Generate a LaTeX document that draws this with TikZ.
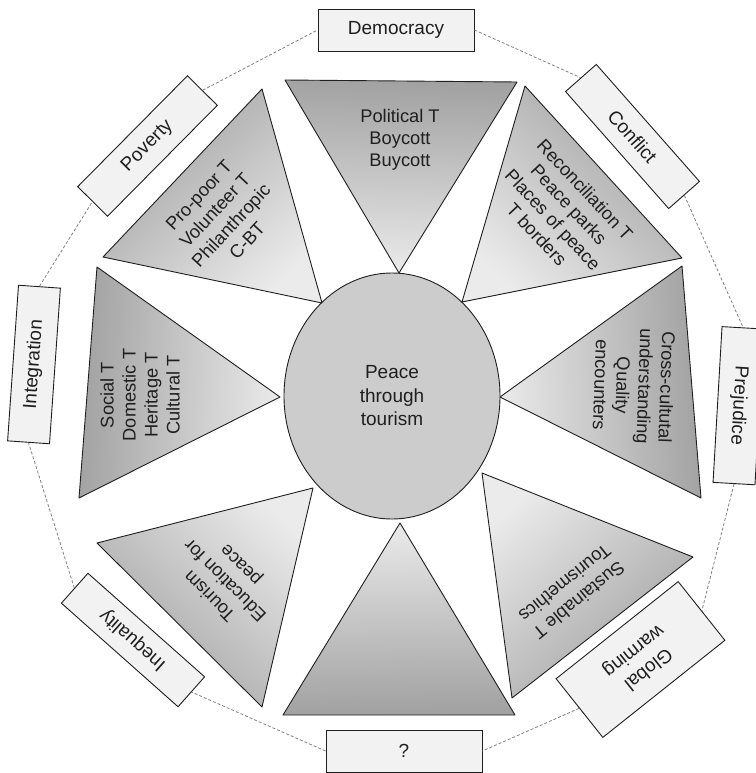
\documentclass[tikz,border=0pt]{standalone}
\usepackage{fontspec}
\setmainfont{Liberation Sans}
\usetikzlibrary{shapes.geometric}
\definecolor{tridark}{gray}{0.63}
\definecolor{trilight}{gray}{0.92}
\definecolor{hubgray}{gray}{0.8}
\definecolor{boxgray}{gray}{0.95}
\definecolor{edge}{gray}{0.12}

\begin{document}
\begin{tikzpicture}[x=1pt, y=-1pt]
  \tikzstyle{every node}=[font=\fontsize{18.3}{22}\selectfont, align=center, text=edge]
  \tikzstyle{box}=[draw=edge, line width=0.9pt, fill=boxgray, minimum width=156pt, inner sep=2pt,
    font=\fontsize{19}{23.5}\selectfont]
  \tikzstyle{wedge}=[draw=edge, line width=0.9pt, top color=tridark, bottom color=trilight, line join=round]
  \tikzstyle{link}=[draw=gray, line width=0.8pt, dash pattern=on 3pt off 2pt]

  \useasboundingbox (0,0) rectangle (755,773);

  % the eight wedges
  \shadedraw[wedge, shading angle=-2] (285,80) -- (517,82) -- (399,273) -- cycle;
  \shadedraw[wedge, shading angle=-43] (525,86) -- (682,258) -- (462,302) -- cycle;
  \shadedraw[wedge, shading angle=-87] (682,266) -- (701,498) -- (500,397) -- cycle;
  \shadedraw[wedge, shading angle=-138] (693,557) -- (512,698) -- (482,473) -- cycle;
  \shadedraw[wedge, shading angle=-179] (515,715) -- (283,715) -- (400,523) -- cycle;
  \shadedraw[wedge, shading angle=137] (262,707) -- (97,543) -- (313,488) -- cycle;
  \shadedraw[wedge, shading angle=87] (79,498) -- (97,267) -- (280,397) -- cycle;
  \shadedraw[wedge, shading angle=43] (103,257) -- (262,89) -- (322,303) -- cycle;

  \node[ellipse, draw=edge, line width=0.9pt, fill=hubgray, minimum width=216pt, minimum height=246pt,
    font=\fontsize{19}{23.5}\selectfont] (hub) at (392,396) {Peace\\through\\tourism};

  % wedge texts
  \node (pol) at (400,140) {Political T\\Boycott\\Buycott};
  \node[rotate=-47] (rec) at (561,212) {Reconciliation T\\Peace parks\\Places of peace\\T borders};
  \node[rotate=-92] (cross) at (634,386) {Cross-cultutal\\understanding\\Quality\\encounters};
  \node[rotate=-141] (sust) at (572,592) {Sustainable T\\Tourismethics};
  \node[rotate=135] (edu) at (226,580) {Tourism\\Education for\\peace};
  \node[rotate=90] (soc) at (140,395) {Social T\\Domestic T\\Heritage T\\Cultural T};
  \node[rotate=47] (poor) at (223,218) {Pro-poor T\\Volunteer T\\Philanthropic\\C-BT};

  % outer ring
  \foreach \x/\y/\a/\h/\n/\t in {396/30/0/42/dem/Democracy, 632.5/136.5/-48.6/41/con/Conflict,
    738.5/405.7/-93.3/42/prej/Prejudice, 640.5/659.5/-141.5/75/glob/Global\\warming,
    404/751/0/42/q/?, 133/640/138.4/40/ineq/Inequality,
    34/364.5/86/42/integ/Integration, 147.5/146/45.3/42/pov/Poverty}
  {
    \path (\x,\y) node[box, rotate=\a, minimum height=\h pt] (\n) {\t};
  }

  \foreach \a/\b in {dem.east/con.west, con.east/prej.west, prej.east/glob.west, glob.east/q.east,
    q.west/ineq.west, ineq.east/integ.west, integ.east/pov.west, pov.east/dem.west}
  {
    \draw[link] (\a) -- (\b);
  }
\end{tikzpicture}
\end{document}
